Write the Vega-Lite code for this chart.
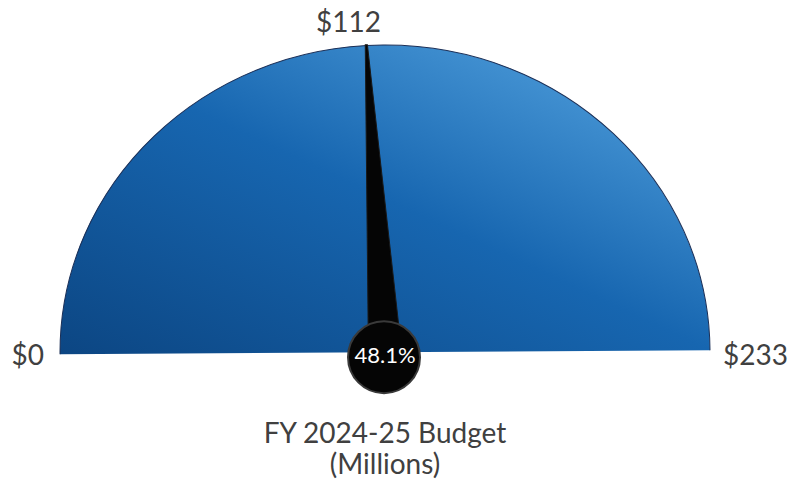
{
  "$schema": "https://vega.github.io/schema/vega-lite/v6.json",
  "width": 791,
  "height": 490,
  "autosize": {"type": "fit", "contains": "padding"},
  "padding": 0,
  "background": "white",
  "config": {"view": {"stroke": null}, "axis": {"disable": true}},
  "data": {"values": [
    {"min": 0, "max": 233, "value": 112, "share": "48.1%", "label_min": "$0", "label_max": "$233", "label_value": "$112", "title": "FY 2024-25 Budget", "subtitle": "(Millions)"}
  ]},
  "layer": [
    {
      "mark": {
        "type": "point",
        "filled": true,
        "shape": "M -1 0 A 1 0.945 0 0 1 1 0",
        "size": 422500,
        "angle": -0.35,
        "opacity": 1,
        "fill": {
          "gradient": "linear",
          "x1": 0, "y1": 1, "x2": 1, "y2": 0,
          "stops": [
            {"offset": 0, "color": "#0c4683"},
            {"offset": 0.5, "color": "#1766b0"},
            {"offset": 0.8, "color": "#3f8ecf"},
            {"offset": 1, "color": "#4e9dd9"}
          ]
        },
        "stroke": "#1b2f57",
        "strokeWidth": 1
      },
      "encoding": {
        "x": {"datum": 116.5, "type": "quantitative", "scale": {"domain": [-21.51, 262.03], "nice": false, "zero": false}},
        "y": {"datum": 0, "type": "quantitative", "scale": {"domain": [-0.45, 1.15], "nice": false, "zero": false}}
      }
    },
    {
      "mark": {
        "type": "point",
        "filled": true,
        "shape": "M -0.055 0.02 L -0.0035 -1 L 0.0035 -1 L 0.055 0.02 Z",
        "size": 379456,
        "opacity": 1,
        "fill": "#050505",
        "stroke": "#1a1a1a",
        "strokeWidth": 1
      },
      "encoding": {
        "x": {"datum": 116.5, "type": "quantitative"},
        "y": {"datum": 0, "type": "quantitative"},
        "angle": {"field": "value", "type": "quantitative", "scale": {"domain": [0, 233], "range": [-90, 90]}}
      }
    },
    {
      "mark": {
        "type": "point",
        "filled": true,
        "shape": "circle",
        "size": 5184,
        "yOffset": 5,
        "xOffset": -1,
        "opacity": 1,
        "fill": "#050505",
        "stroke": "#3a3a3a",
        "strokeWidth": 2
      },
      "encoding": {
        "x": {"datum": 116.5, "type": "quantitative"},
        "y": {"datum": 0, "type": "quantitative"}
      }
    },
    {
      "mark": {"type": "text", "font": "Lato", "fontSize": 22, "color": "white", "align": "center", "baseline": "middle", "dy": 4},
      "encoding": {
        "x": {"datum": 116.5, "type": "quantitative"},
        "y": {"datum": 0, "type": "quantitative"},
        "text": {"field": "share"}
      }
    },
    {
      "mark": {"type": "text", "font": "Lato", "fontSize": 28, "color": "#404040", "align": "right", "baseline": "alphabetic", "dx": -16, "dy": 13},
      "encoding": {
        "x": {"field": "min", "type": "quantitative"},
        "y": {"datum": 0, "type": "quantitative"},
        "text": {"field": "label_min"}
      }
    },
    {
      "mark": {"type": "text", "font": "Lato", "fontSize": 28, "color": "#404040", "align": "left", "baseline": "alphabetic", "dx": 13, "dy": 13},
      "encoding": {
        "x": {"field": "max", "type": "quantitative"},
        "y": {"datum": 0, "type": "quantitative"},
        "text": {"field": "label_max"}
      }
    },
    {
      "mark": {"type": "text", "font": "Lato", "fontSize": 28, "color": "#404040", "align": "center", "baseline": "alphabetic", "dx": -24, "dy": -14},
      "encoding": {
        "x": {"field": "value", "type": "quantitative"},
        "y": {"datum": 1, "type": "quantitative"},
        "text": {"field": "label_value"}
      }
    },
    {
      "mark": {"type": "text", "font": "Lato", "fontSize": 28, "color": "#404040", "align": "center", "baseline": "alphabetic"},
      "encoding": {
        "x": {"datum": 116.5, "type": "quantitative"},
        "y": {"datum": -0.2965, "type": "quantitative"},
        "text": {"field": "title"}
      }
    },
    {
      "mark": {"type": "text", "font": "Lato", "fontSize": 28, "color": "#404040", "align": "center", "baseline": "alphabetic"},
      "encoding": {
        "x": {"datum": 116.5, "type": "quantitative"},
        "y": {"datum": -0.3978, "type": "quantitative"},
        "text": {"field": "subtitle"}
      }
    }
  ]
}
